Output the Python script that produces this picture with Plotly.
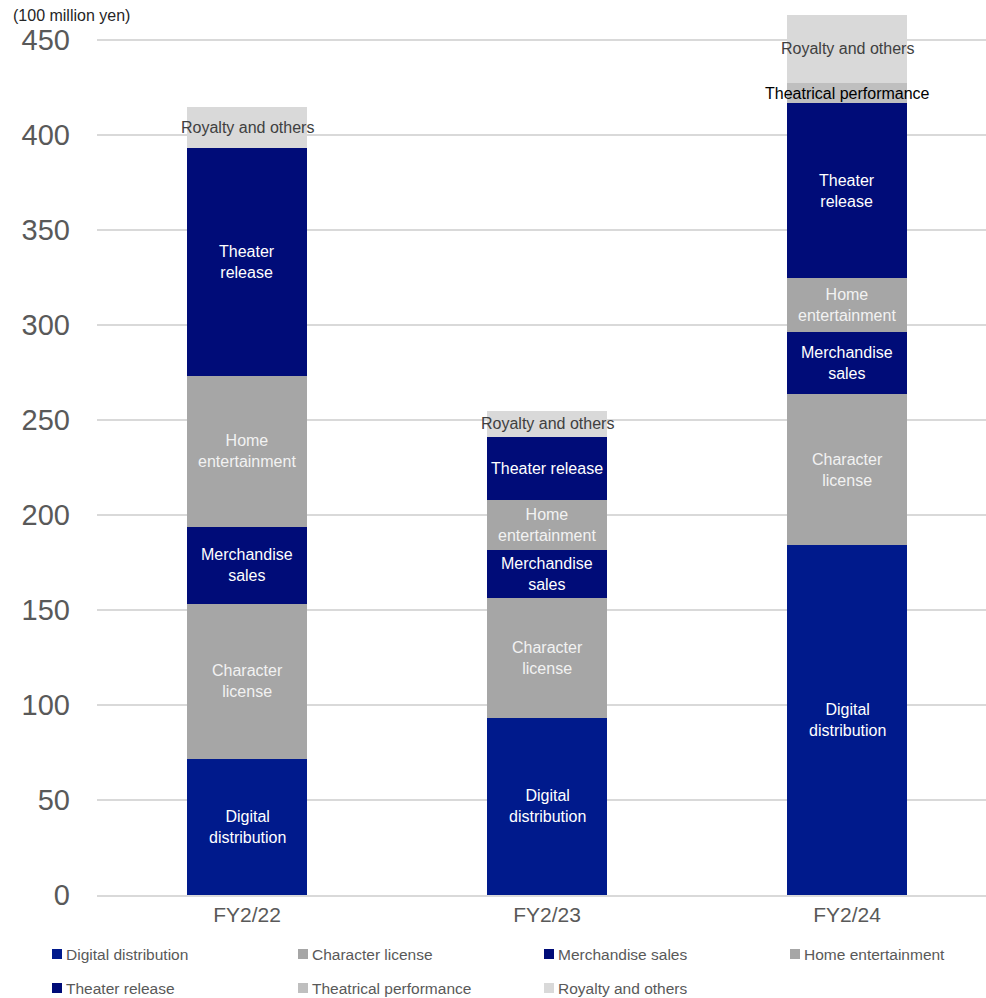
import plotly.graph_objects as go

categories = ["FY2/22", "FY2/23", "FY2/24"]
series_names = ["Digital distribution", "Character license", "Merchandise sales",
                "Home entertainment", "Theater release", "Theatrical performance",
                "Royalty and others"]
digital = [71.6, 93.2, 184.2]
character = [81.6, 63.1, 79.5]
merchandise = [40.5, 25.3, 32.6]
home = [79.5, 26.3, 28.4]
theater = [120.0, 33.2, 92.1]
theatrical = [0.0, 0.0, 10.6]
royalty = [21.5, 13.6, 35.8]
values = [digital, character, merchandise, home, theater, theatrical, royalty]

colors = ["#001A8C", "#A6A6A6", "#000C78", "#A6A6A6", "#000C78", "#BFBFBF", "#D9D9D9"]
label_colors = ["#FFFFFF", "#F2F2F2", "#FFFFFF", "#F2F2F2", "#FFFFFF", "#000000", "#404040"]
bar_labels = [
    ["Digital<br>distribution", "Digital<br>distribution", "Digital<br>distribution"],
    ["Character<br>license", "Character<br>license", "Character<br>license"],
    ["Merchandise<br>sales", "Merchandise<br>sales", "Merchandise<br>sales"],
    ["Home<br>entertainment", "Home<br>entertainment", "Home<br>entertainment"],
    ["Theater<br>release", "Theater release", "Theater<br>release"],
    ["", "", "Theatrical performance"],
    ["Royalty and others", "Royalty and others", "Royalty and others"],
]
y_ticks = [0, 50, 100, 150, 200, 250, 300, 350, 400, 450]

FONT = "Liberation Sans, Arial, sans-serif"
W, H = 986, 998
plot_left, plot_w = 97, 889
plot_h = 895


def px(x):
    return (x - plot_left) / plot_w


def py(y):
    return 1 - y / plot_h


fig = go.Figure()
for name, vals, col in zip(series_names, values, colors):
    fig.add_trace(go.Bar(x=categories, y=vals, name=name, marker_color=col,
                         marker_line_width=0, width=0.4, showlegend=False))

annotations = []
base = [0.0] * len(categories)
for vals, labs, lc in zip(values, bar_labels, label_colors):
    for i, (v, lab) in enumerate(zip(vals, labs)):
        if lab and v > 0:
            annotations.append(dict(x=categories[i], y=base[i] + v / 2, xref="x", yref="y",
                                    text=lab, showarrow=False,
                                    font=dict(family=FONT, size=16, color=lc)))
        base[i] += v

annotations.append(dict(x=px(11), y=py(15), xref="paper", yref="paper",
                        text="(100 million yen)", showarrow=False,
                        xanchor="left", yanchor="middle",
                        font=dict(family=FONT, size=16, color="#262626")))

# manual legend (4 columns x 2 rows)
shapes = []
col_x = [52, 298, 544, 790]
row_y = [954, 988]
for k, (name, col) in enumerate(zip(series_names, colors)):
    cx = col_x[k % 4]
    cy = row_y[k // 4]
    shapes.append(dict(type="rect", xref="paper", yref="paper",
                       x0=px(cx), x1=px(cx + 10), y0=py(cy - 5), y1=py(cy + 5),
                       fillcolor=col, line_width=0))
    annotations.append(dict(x=px(cx + 12), y=py(cy), xref="paper", yref="paper",
                            text=name, showarrow=False, xanchor="left", yanchor="middle",
                            font=dict(family=FONT, size=15.5, color="#595959")))

fig.update_layout(
    width=W, height=H,
    margin=dict(l=97, r=0, t=0, b=H - plot_h),
    barmode="stack",
    plot_bgcolor="white", paper_bgcolor="white",
    font=dict(family=FONT, color="#595959"),
    annotations=annotations,
    shapes=shapes,
    showlegend=False,
    xaxis=dict(range=[-0.5, -0.5 + plot_w / 300], showgrid=False, showline=True,
               linecolor="#D9D9D9", linewidth=1.5, ticks="",
               tickfont=dict(family=FONT, size=21, color="#595959")),
    yaxis=dict(range=[0, plot_h / 1.9], tickvals=y_ticks,
               showgrid=True, gridcolor="#D9D9D9", gridwidth=1.5, zeroline=False,
               ticklabelstandoff=26,
               tickfont=dict(family=FONT, size=29, color="#595959")),
)

fig.write_html("out.html")
